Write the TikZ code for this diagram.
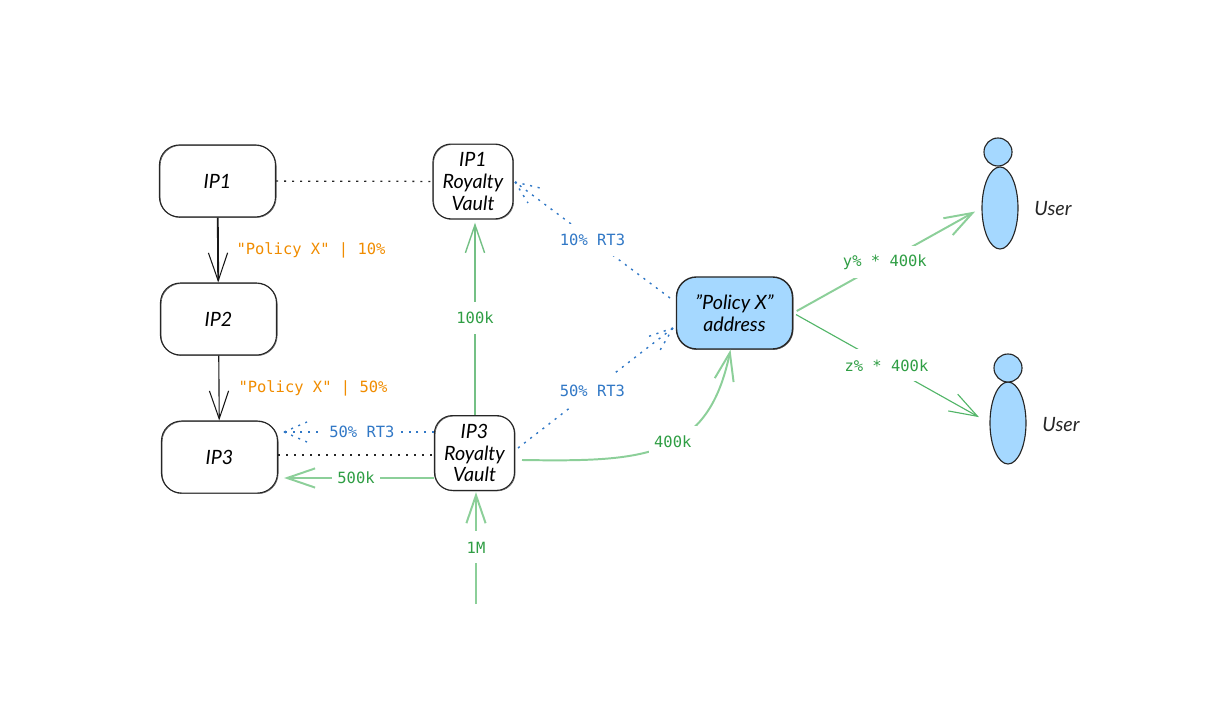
\documentclass[tikz,border=0pt]{standalone}
\usepackage{fontspec}
\setmainfont{Lato}
\setmonofont{DejaVu Sans Mono}
\usetikzlibrary{arrows.meta, shapes.geometric}
\definecolor{inkgreen}{HTML}{2F9E44}
\definecolor{softgreen}{HTML}{8CCF99}
\definecolor{midgreen}{HTML}{52B568}
\definecolor{palegreen}{HTML}{74C085}
\definecolor{inkblue}{HTML}{3178C6}
\definecolor{inkorange}{HTML}{F08C00}
\definecolor{skyfill}{HTML}{A5D8FF}
\tikzstyle{box} = [rectangle, rounded corners=0.5cm, minimum width=2.9cm, minimum height=1.8cm, text centered, draw=black!85, line width=0.8pt, font=\itshape\fontsize{14}{15.5}\selectfont, preaction={draw=black!60, line width=0.4pt, transform canvas={xshift=0.5pt,yshift=-0.4pt}}]
\tikzstyle{vault} = [box, rounded corners=0.45cm, minimum width=2cm, minimum height=1.87cm, align=center, inner sep=0pt]
\tikzstyle{policybox} = [box, fill=skyfill, align=center, line width=1pt]
\tikzstyle{person} = [circle, draw=black!85, fill=skyfill, line width=0.8pt, minimum size=0.7cm, inner sep=0pt]
\tikzstyle{torso} = [ellipse, draw=black!85, fill=skyfill, line width=0.8pt, minimum width=0.9cm, minimum height=2.05cm, inner sep=0pt]
\tikzstyle{usertext} = [font=\itshape\fontsize{14}{15.5}\selectfont, text=black!85]
\tikzstyle{amount} = [fill=white, text=inkgreen, font=\ttfamily\fontsize{11}{13}\selectfont, inner xsep=4pt, inner ysep=0pt, minimum height=0.8cm]
\tikzstyle{share} = [amount, text=inkblue]
\tikzstyle{rule} = [text=inkorange, font=\ttfamily\fontsize{11}{13}\selectfont]
\tikzstyle{arrow} = [->, >={Straight Barb[length=0.7cm, width=0.48cm]}]
\tikzstyle{thinarrow} = [->, >={Straight Barb[length=0.7cm, width=0.48cm, line width=0.75pt]}]
\tikzstyle{thinflow} = [arrow, draw=midgreen, line width=0.8pt]
\tikzstyle{thickflow} = [arrow, draw=softgreen, line width=1.4pt]
\tikzstyle{link} = [draw=black!85, line width=0.9pt, dash pattern=on 1.5pt off 4.2pt]
\tikzstyle{rtline} = [draw=inkblue, line width=1pt, dash pattern=on 1.5pt off 4pt]

\begin{document}
\begin{tikzpicture}[x=0.025cm, y=0.025cm, node distance=3.45cm]
  \useasboundingbox (0,0) rectangle (1218,-714);

  \node (ip1) [box] at (217.5,-181) {IP1};
  \node (ip2) [box, below of=ip1, xshift=0.025cm] {IP2};
  \node (ip3) [box, below of=ip2, xshift=0.025cm] {IP3};
  \node (vault1) [vault] at (473,-181.5) {IP1\\Royalty\\Vault};
  \node (vault3) [vault] at (474.5,-453) {IP3\\Royalty\\Vault};
  \node (policy) [policybox] at (734.5,-313) {"Policy X"\\address};

  \node (body1) [torso] at (1000,-208) {};
  \node (head1) [person] at (998,-152) {};
  \node (body2) [torso] at (1008,-423) {};
  \node (head2) [person] at (1008,-368) {};
  \node (user1) [usertext] at (1053,-209) {User};
  \node (user2) [usertext] at (1061,-425) {User};

  % policy hand-over
  \draw [thinarrow, line width=1.3pt, draw=black!90] (ip1) -- (ip2);
  \draw [thinarrow, line width=0.8pt, draw=black!90] (ip2) -- (ip3);
  \node (rule10) [rule] at (311,-250) {"Policy X" | 10\%};
  \node (rule50) [rule] at (313,-388) {"Policy X" | 50\%};

  % ownership
  \draw [link] (ip1) -- (vault1);
  \draw [link] (ip3.east |- 0,-455) -- (vault3.west |- 0,-455);

  % money
  \coordinate (mint) at (476,-604);
  \coordinate (pay100) at (475,-415);
  \coordinate (pay500) at (434,-478);
  \coordinate (pay400) at (522,-460);
  \draw [thinflow, draw=palegreen, line width=1pt, shorten >=0.08cm] (pay100) -- (pay100 |- vault1.south) node [amount, pos=0.5, yshift=-0.02cm] {100k};
  \draw [thickflow, shorten >=0.03cm] (mint) -- (mint |- vault3.south) node [amount, pos=0.5] {1M};
  \draw [thickflow, shorten >=0.15cm] (pay500) -- (pay500 -| ip3.east) node [amount, pos=0.5] {500k};
  \draw [thickflow] (pay400) .. controls (645,-462) and (708,-458) .. ([xshift=-0.1cm]policy.south) node [amount, pos=0.545] {400k};
  \draw [thickflow, shorten <=0.1cm, shorten >=0.18cm] (policy.east) -- (body1.west) node [amount, pos=0.487] {y\% * 400k};
  \draw [thinflow, shorten <=0.08cm, shorten >=0.3cm] (policy.east) -- (body2.west) node [amount, pos=0.475] {z\% * 400k};

  % royalty shares
  \coordinate (rtip10) at (515,-182);
  \coordinate (rtip50) at (673,-328);
  \coordinate (rtip3) at (284,-432);
  \draw [rtline] (670,-298) -- (rtip10) node [share, pos=0.5] {10\% RT3};
  \draw [rtline] (rtip10) -- (540,-188);
  \draw [rtline] (rtip10) -- (528,-203);
  \draw [rtline] (518,-448) -- (rtip50) node [share, pos=0.48] {50\% RT3};
  \draw [rtline] (rtip50) -- (647,-337);
  \draw [rtline] (rtip50) -- (659,-352);
  \draw [rtline] (vault3.west |- rtip3) -- (rtip3) node [share, pos=0.48] {50\% RT3};
  \draw [rtline] (rtip3) -- (307,-422);
  \draw [rtline] (rtip3) -- (307,-442);
\end{tikzpicture}
\end{document}
